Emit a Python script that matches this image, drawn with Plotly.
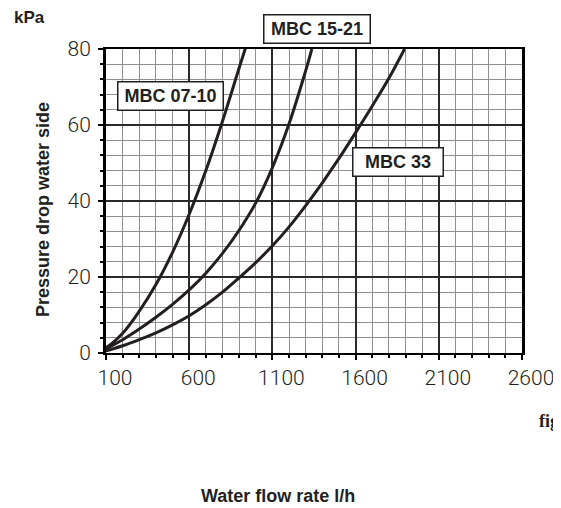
import plotly.graph_objects as go

# ---- data ----
flow_07_10 = [20, 100, 200, 300, 400, 500, 600, 700, 800, 900, 940]
dp_07_10 = [0, 1.4, 5.2, 11, 18, 26.5, 36.5, 48, 61, 75, 80.5]

flow_15_21 = [20, 100, 200, 300, 400, 500, 600, 700, 800, 900, 1000, 1100, 1200, 1300, 1337]
dp_15_21 = [0, 1.2, 3.5, 6.3, 9.4, 12.8, 16.6, 21, 26.2, 32.3, 39.5, 48.8, 60.3, 74.3, 80]

flow_33 = [20, 100, 200, 300, 400, 500, 600, 700, 800, 900, 1000, 1100, 1200, 1300,
           1400, 1500, 1600, 1700, 1800, 1894]
dp_33 = [0, 0.6, 1.9, 3.5, 5.3, 7.4, 9.8, 12.7, 16, 19.8, 23.8, 28.2, 33.2, 38.8,
         44.8, 51.2, 58, 65, 72.3, 80]

series_names = ["MBC 07-10", "MBC 15-21", "MBC 33"]
series_x = [flow_07_10, flow_15_21, flow_33]
series_y = [dp_07_10, dp_15_21, dp_33]

x_ticks = [100, 600, 1100, 1600, 2100, 2600]
y_ticks = [0, 20, 40, 60, 80]

INK = "#231f20"
BOLD = "Liberation Sans, Arial, sans-serif"
LIGHT = "Roboto, Helvetica, Arial, sans-serif"

# page geometry (the page body adds an 8px offset)
W, H = 561, 508
OFF = 8
ML, MT = 106 - OFF, 49 - OFF
MR = W - (522 - OFF)
MB = H - (353 - OFF)
PW, PH = W - ML - MR, H - MT - MB


def paper(px, py):
    """page pixel position -> paper coordinates"""
    return (px - OFF - ML) / PW, 1 - (py - OFF - MT) / PH


fig = go.Figure()
for name, xs, ys in zip(series_names, series_x, series_y):
    fig.add_trace(go.Scatter(
        x=xs, y=ys, mode="lines", name=name,
        line=dict(color=INK, width=3, shape="spline", smoothing=1.0),
        cliponaxis=False, showlegend=False, hoverinfo="x+y+name",
    ))

# boxed series names (page pixel centres and box sizes)
box_pos = [(170, 95.5), (317.2, 28.7), (398.3, 161.5)]
box_w = [104, 105, 89]
for name, (bx, by), w in zip(series_names, box_pos, box_w):
    ax, ay = paper(bx, by)
    fig.add_annotation(
        x=ax, y=ay, xref="paper", yref="paper", text=name, showarrow=False,
        xanchor="center", yanchor="middle",
        font=dict(family=BOLD, size=18, color=INK, weight="bold"),
        bgcolor="white", bordercolor=INK, borderwidth=1.5, borderpad=0,
        width=w, height=27, align="center", valign="middle",
    )

ax, ay = paper(12, 18)
fig.add_annotation(x=ax, y=ay, xref="paper", yref="paper", text="kPa", showarrow=False,
                   xanchor="left", yanchor="middle",
                   font=dict(family=BOLD, size=17, color=INK, weight="bold"))
ax, ay = paper(278, 496)
fig.add_annotation(x=ax, y=ay, xref="paper", yref="paper", text="Water flow rate l/h",
                   showarrow=False, xanchor="center", yanchor="middle",
                   font=dict(family=BOLD, size=18, color=INK, weight="bold"))
ax, ay = paper(43, 210)
fig.add_annotation(x=ax, y=ay, xref="paper", yref="paper", text="Pressure drop water side",
                   showarrow=False, xanchor="center", yanchor="middle", textangle=-90,
                   font=dict(family=BOLD, size=18, color=INK, weight="bold"))
ax, ay = paper(537, 421)
fig.add_annotation(x=ax, y=ay, xref="paper", yref="paper", text="fig", showarrow=False,
                   xanchor="left", yanchor="middle",
                   font=dict(family="Liberation Serif, Times New Roman, serif", size=18,
                             color=INK, weight="bold"))

fig.update_layout(
    width=W, height=H,
    margin=dict(l=ML, r=MR, t=MT, b=MB, autoexpand=False),
    paper_bgcolor="white", plot_bgcolor="white",
    xaxis=dict(
        range=[100, 2600], tickvals=x_ticks, ticktext=[str(v) for v in x_ticks],
        showgrid=True, gridcolor="#2a2a2a", gridwidth=1.5,
        showline=True, linecolor="black", linewidth=2, mirror=True,
        ticks="outside", ticklen=5, tickwidth=2, tickcolor="black",
        tickfont=dict(family=LIGHT, size=21, color=INK, weight=300),
        ticklabelshift=9, zeroline=False,
        minor=dict(dtick=100, tick0=100, showgrid=True, gridcolor="#8f8f8f", gridwidth=1.2,
                   ticks="outside", ticklen=3, tickwidth=2, tickcolor="black"),
    ),
    yaxis=dict(
        range=[0, 80], tickvals=y_ticks, ticktext=[str(v) for v in y_ticks],
        showgrid=True, gridcolor="#2a2a2a", gridwidth=1.5,
        showline=True, linecolor="black", linewidth=3, mirror=True,
        ticks="outside", ticklen=5, tickwidth=2, tickcolor="black",
        tickfont=dict(family=LIGHT, size=21, color=INK, weight=300),
        ticklabelstandoff=3, zeroline=False,
        minor=dict(dtick=4, tick0=0, showgrid=True, gridcolor="#8f8f8f", gridwidth=1.2,
                   ticks="outside", ticklen=3, tickwidth=2, tickcolor="black"),
    ),
)

fig.write_html("out.html")
